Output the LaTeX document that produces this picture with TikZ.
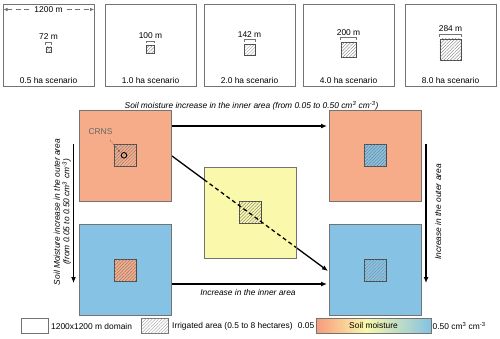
\documentclass[tikz,border=0pt]{standalone}
\usepackage{fontspec}
\setmainfont{Liberation Sans}
\usetikzlibrary{patterns.meta,arrows.meta,calc}
\definecolor{sorange}{RGB}{247,172,137}
\definecolor{sblue}{RGB}{133,194,227}
\definecolor{syellow}{RGB}{250,248,170}
\definecolor{bord}{RGB}{115,115,115}
\begin{document}
\begin{tikzpicture}[x=1pt,y=-1pt,font=\fontsize{8.4}{9.5}\selectfont,
  dom/.style={draw=bord,line width=0.6pt,inner sep=0,minimum width=91pt,minimum height=82pt},
  big/.style={draw=bord,line width=0.7pt,inner sep=0,minimum width=92pt,minimum height=91pt},
  hatch/.style={postaction={pattern={Lines[angle=45,distance=2.3pt,line width=0.3pt]},pattern color=black!55}},
  irr/.style={draw=black!70,line width=0.6pt,inner sep=0,minimum size=#1,hatch},
  brk/.style={draw=bord,line width=0.5pt},
  arr/.style={line width=1.3pt,-{Latex[length=6pt,width=5pt]}},
  lab/.style={font=\fontsize{8.4}{9.5}\selectfont\itshape,inner sep=1pt}]
\useasboundingbox (0,0) rectangle (500,338);
% ---------- top row ----------
\foreach \cx/\s/\m/\ha/\nm in {48.5/5.4/72/0.5/a,150.5/7.5/100/1.0/b,249.5/10.6/142/2.0/c,348.5/15/200/4.0/d,450.5/21.3/284/8.0/e}{
  \node[dom] (dom\nm) at (\cx,45) {};
  \node[irr=\s pt] (ir\nm) at (\cx,49.5) {};
  \draw[brk] ($(ir\nm.north west)+(0,-2)$) -- ++(0,-2.5) -- ($(ir\nm.north east)+(0,-4.5)$) -- ++(0,2.5);
  \node[inner sep=0] (t\nm) at ($(ir\nm.north)+(0,-9.5)$) {\m\ m};
  \node[inner sep=0] (c\nm) at (\cx,80.5) {\ha\ ha scenario};
}
\coordinate (wl) at (3.5,9.5);
\coordinate (wr) at (94,9.5);
\draw[bord,line width=0.6pt,dash pattern=on 5pt off 3.5pt,{Latex[length=4pt,width=3.5pt]}-{Latex[length=4pt,width=3.5pt]}] (wl) -- (wr);
\node[fill=white,inner sep=1.5pt] (w) at (48.5,9.5) {1200 m};
% ---------- diagonal solid ----------
\coordinate (d1) at (172,156);
\coordinate (d2) at (328,271);
\draw[arr] (d1) -- (d2);
% ---------- big squares ----------
\node[big,fill=sorange] (TL) at (125,155.5) {};
\node[big,fill=sorange] (TR) at (375,155.5) {};
\node[big,fill=sblue] (BL) at (125,270) {};
\node[big,fill=sblue] (BR) at (375,270) {};
\node[big,fill=syellow] (Y) at (250,212.5) {};
\node[irr=22pt,fill=sorange] (iTL) at (TL) {};
\node[irr=22pt,fill=sblue] (iTR) at (TR) {};
\node[irr=22pt,fill=sorange] (iBL) at (BL) {};
\node[irr=22pt,fill=sblue] (iBR) at (BR) {};
\node[irr=22pt,fill=syellow] (iY) at (Y) {};
\draw[line width=1.3pt,dash pattern=on 4pt off 3pt] ($(d1)!0.205!(d2)$) -- ($(d1)!0.795!(d2)$);
% ---------- CRNS ----------
\node[text=black!60,inner sep=0] (crns) at (100.5,132) {CRNS};
\coordinate (cr1) at (110,140);
\coordinate (cr2) at (119,151);
\draw[black!60,line width=0.5pt,dash pattern=on 1.5pt off 1pt] (cr1) -- (cr2);
\fill[black!70] (cr2) circle (0.9pt);
\draw[line width=0.9pt] (124,155.3) circle (2.8pt);
% ---------- arrows ----------
\coordinate (h1a) at (172,126); \coordinate (h1b) at (327,126);
\coordinate (h2a) at (172,284); \coordinate (h2b) at (327,284);
\coordinate (v1a) at (73.5,144); \coordinate (v1b) at (73.5,283);
\coordinate (v2a) at (426,144); \coordinate (v2b) at (426,283);
\draw[arr] (h1a) -- (h1b);
\draw[arr] (h2a) -- (h2b);
\draw[arr] (v1a) -- (v1b);
\draw[arr] (v2a) -- (v2b);
\node[lab] (l1) at (251.5,105.5) {Soil moisture increase in the inner area (from 0.05 to 0.50 cm\textsuperscript{3} cm\textsuperscript{-3})};
\node[lab] (l2) at (248,292.5) {Increase in the inner area};
\node[lab,rotate=90,align=center] (l3) at (62.5,212) {Soil Moisture increase in the outer area\\(from 0.05 to 0.50 cm\textsuperscript{3} cm\textsuperscript{-3})};
\node[lab,rotate=90] (l4) at (438,212) {Increase in the outer area};
% ---------- legend ----------
\node[draw=bord,line width=0.6pt,fill=white,inner sep=0,minimum width=27pt,minimum height=15pt] (lg1) at (34.5,325.8) {};
\node[anchor=west,inner sep=0] (lg1t) at (51,326) {1200x1200 m domain};
\node[draw=bord,line width=0.6pt,inner sep=0,minimum width=26.5pt,minimum height=15pt,postaction={pattern={Lines[angle=45,distance=2.3pt,line width=0.3pt]},pattern color=black!40}] (lg2) at (155,325.8) {};
\node[anchor=west,inner sep=0] (lg2t) at (172,326) {Irrigated area (0.5 to 8 hectares)};
\shade[left color=sorange!90!red,right color=syellow] (316,318.3) rectangle (366,333.3);
\shade[left color=syellow,right color=sblue] (366,318.3) rectangle (431,333.3);
\node[draw=bord,line width=0.6pt,inner sep=0,minimum width=115pt,minimum height=15pt] (bar) at (373.5,325.8) {Soil moisture};
\node[anchor=east,inner sep=0] (b0) at (314.5,326) {0.05};
\node[anchor=west,inner sep=0] (b1) at (432.5,326) {0.50 cm\textsuperscript{3} cm\textsuperscript{-3}};
\end{tikzpicture}
\end{document}
